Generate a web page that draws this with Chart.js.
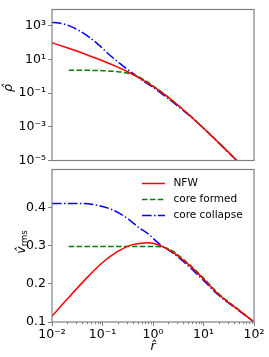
<!DOCTYPE html>
<html>
<head>
<meta charset="utf-8">
<script src="https://cdn.jsdelivr.net/npm/chart.js@4/dist/chart.umd.min.js"></script>
<style>
  body { margin: 0; background: #fff; }
  #wrap { position: relative; width: 269px; height: 357px; }
  canvas { position: absolute; left: 0; }
  #top { top: 0; }
  #bot { top: 160px; }
</style>
</head>
<body>
<div id="wrap">
  <canvas id="top" width="269" height="170"></canvas>
  <canvas id="bot" width="269" height="197"></canvas>
</div>
<script>
// ---- data ----
const seriesNames = ["NFW", "core formed", "core collapse"];

// top panel: density
const rNfwTop  = [0.01, 0.02, 0.05, 0.1, 0.2, 0.3, 0.5, 1, 2, 3, 5, 10, 20, 30, 50, 100];
const rhoNfw   = [98, 48, 18.1, 8.26, 3.47, 1.97, 0.889, 0.25, 0.0556, 0.0208, 0.00556, 8.26e-4, 1.13e-4, 3.47e-5, 7.7e-6, 9.8e-7];
const rCoreTop = [0.0214, 0.05, 0.1, 0.2, 0.3, 0.45, 0.7, 1, 2, 3, 5, 10, 20, 50, 100];
const rhoCore  = [2.26, 2.22, 2.12, 1.86, 1.56, 1.1, 0.55, 0.27, 0.058, 0.021, 0.0058, 8.4e-4, 1.14e-4, 7.7e-6, 9.8e-7];
const rCollTop = [0.01, 0.0136, 0.0214, 0.0338, 0.0535, 0.0843, 0.133, 0.209, 0.284, 0.415, 0.61, 0.955, 2.04, 4.4, 10, 20, 50, 100];
const rhoColl  = [1550, 1420, 1000, 520, 214, 72, 20, 6.5, 3.1, 1.38, 0.57, 0.24, 0.045, 0.0072, 8.2e-4, 1.1e-4, 7.6e-6, 9.7e-7];

// bottom panel: rms velocity
const rNfwBot  = [0.01, 0.02, 0.05, 0.1, 0.2, 0.35, 0.5, 0.8, 1.3, 2.4, 5, 10, 20, 50, 100];
const vNfw     = [0.115, 0.160, 0.217, 0.256, 0.285, 0.301, 0.305, 0.308, 0.302, 0.284, 0.251, 0.213, 0.172, 0.131, 0.1];
const rCoreBot = [0.0214, 0.5, 1.0, 1.6, 2.4, 5, 10, 20, 50, 100];
const vCore    = [0.298, 0.298, 0.298, 0.296, 0.287, 0.253, 0.215, 0.174, 0.132, 0.1];
const rCollBot = [0.01, 0.04, 0.072, 0.133, 0.209, 0.33, 0.52, 0.82, 1.3, 2.4, 5, 10, 20, 50, 100];
const vColl    = [0.411, 0.411, 0.407, 0.398, 0.386, 0.369, 0.348, 0.330, 0.306, 0.282, 0.247, 0.209, 0.170, 0.130, 0.1];

// ticks
const xTickVals   = [0.01, 0.1, 1, 10, 100];
const xTickLabels = ["10⁻²", "10⁻¹", "10⁰", "10¹", "10²"];
const topTickVals   = [1e-5, 1e-3, 1e-1, 10, 1000];
const topTickLabels = ["10⁻⁵", "10⁻³", "10⁻¹", "10¹", "10³"];
const botTickVals   = [0.1, 0.2, 0.3, 0.4];
const botTickLabels = ["0.1", "0.2", "0.3", "0.4"];

const colors = ["#ff0000", "#008000", "#0000ff"];
const dashes = [[], [5.5, 2.4], [9.6, 2.4, 1.5, 2.4]];
const FONT = "DejaVu Sans";
const SPINE = "#808080";
const TICKFONT = { family: FONT, size: 12.5 };

function pts(xs, ys) { return xs.map((x, i) => ({ x, y: ys[i] })); }

function ds(i, data) {
  return {
    label: seriesNames[i], data,
    borderColor: colors[i], borderWidth: 1.5, borderDash: dashes[i],
    pointRadius: 0, fill: false, cubicInterpolationMode: "monotone"
  };
}

const frame = {
  id: "frame",
  afterDraw(chart) {
    const { ctx, chartArea: a } = chart;
    ctx.save();
    ctx.strokeStyle = SPINE;
    ctx.lineWidth = 1.2;
    ctx.strokeRect(a.left, a.top, a.right - a.left, a.bottom - a.top);
    ctx.restore();
  }
};

function yLabel(text, sub, x, y) {
  return {
    id: "ylab",
    afterDraw(chart) {
      const ctx = chart.ctx;
      ctx.save();
      ctx.translate(x, y);
      ctx.rotate(-Math.PI / 2);
      ctx.fillStyle = "#000";
      ctx.textBaseline = "middle";
      ctx.font = "italic 12.5px " + FONT;
      const w1 = ctx.measureText(text).width;
      let w2 = 0;
      if (sub) { ctx.font = "8.5px " + FONT; w2 = ctx.measureText(sub).width; }
      const x0 = -(w1 + w2) / 2;
      ctx.font = "italic 12.5px " + FONT;
      ctx.textAlign = "left";
      ctx.fillText(text, x0, 0);
      if (sub) { ctx.font = "8.5px " + FONT; ctx.fillText(sub, x0 + w1, 3); }
      ctx.restore();
    }
  };
}

const yAxisCommon = {
  grid: { drawOnChartArea: false, tickLength: 4, color: SPINE },
  border: { display: false },
  afterFit: s => { s.width = 52; }
};

new Chart(document.getElementById("top"), {
  type: "line",
  data: { datasets: [ds(0, pts(rNfwTop, rhoNfw)), ds(1, pts(rCoreTop, rhoCore)), ds(2, pts(rCollTop, rhoColl))] },
  options: {
    responsive: false, animation: false,
    layout: { padding: { top: 8, right: 15, left: 0, bottom: 0 } },
    plugins: { legend: { display: false }, tooltip: { enabled: false } },
    scales: {
      x: {
        type: "logarithmic", min: 0.01, max: 100,
        afterBuildTicks: s => { s.ticks = xTickVals.map(v => ({ value: v })); },
        ticks: { display: false },
        grid: { display: false }, border: { display: false },
        afterFit: s => { s.height = 5; }
      },
      y: Object.assign({}, yAxisCommon, {
        type: "logarithmic", min: 1e-5, max: 9000,
        afterBuildTicks: s => { s.ticks = topTickVals.map(v => ({ value: v })); },
        ticks: { callback: (v, i) => topTickLabels[i], color: "#000", font: TICKFONT, padding: 2 }
      })
    }
  },
  plugins: [frame, yLabel("ρ\u0302", "", 9, 88)]
});

const legendIn = {
  id: "legendIn",
  afterDraw(chart) {
    const { ctx, chartArea: a } = chart;
    ctx.save();
    ctx.font = "10.5px " + FONT;
    ctx.textBaseline = "middle";
    ctx.fillStyle = "#000";
    seriesNames.forEach((name, i) => {
      const y = a.top + 14 + i * 16;
      const x = a.right - 112;
      ctx.strokeStyle = colors[i];
      ctx.lineWidth = 1.5;
      ctx.setLineDash(dashes[i]);
      ctx.beginPath(); ctx.moveTo(x, y); ctx.lineTo(x + 23, y); ctx.stroke();
      ctx.setLineDash([]);
      ctx.fillText(name, x + 31.5, y);
    });
    ctx.restore();
  }
};

const minorX = {
  id: "minorX",
  afterDraw(chart) {
    const { ctx, chartArea: a } = chart;
    const sx = chart.scales.x;
    ctx.save();
    ctx.strokeStyle = SPINE;
    ctx.lineWidth = 1;
    for (let n = -2; n < 2; n++) {
      for (let k = 2; k < 10; k++) {
        const px = Math.round(sx.getPixelForValue(k * Math.pow(10, n))) + 0.5;
        ctx.beginPath(); ctx.moveTo(px, a.bottom); ctx.lineTo(px, a.bottom + 2.2); ctx.stroke();
      }
    }
    ctx.font = "italic 12.5px " + FONT;
    ctx.fillStyle = "#000";
    ctx.textAlign = "center";
    ctx.textBaseline = "middle";
    ctx.fillText("r\u0302", (a.left + a.right) / 2, 187);
    ctx.restore();
  }
};

new Chart(document.getElementById("bot"), {
  type: "line",
  data: { datasets: [ds(0, pts(rNfwBot, vNfw)), ds(1, pts(rCoreBot, vCore)), ds(2, pts(rCollBot, vColl))] },
  options: {
    responsive: false, animation: false,
    layout: { padding: { top: 5, right: 15, left: 0, bottom: 0 } },
    plugins: { legend: { display: false }, tooltip: { enabled: false } },
    scales: {
      x: {
        type: "logarithmic", min: 0.01, max: 100,
        afterBuildTicks: s => { s.ticks = xTickVals.map(v => ({ value: v })); },
        ticks: { callback: (v, i) => xTickLabels[i], color: "#000", font: TICKFONT, padding: 1, maxRotation: 0, autoSkip: false },
        grid: { drawOnChartArea: false, tickLength: 4, color: SPINE },
        border: { display: false },
        afterFit: s => { s.height = 35; }
      },
      y: Object.assign({}, yAxisCommon, {
        type: "linear", min: 0.1, max: 0.4999,
        afterBuildTicks: s => { s.ticks = botTickVals.map(v => ({ value: v })); },
        ticks: { callback: (v, i) => botTickLabels[i], color: "#000", font: TICKFONT, padding: 2 }
      })
    }
  },
  plugins: [frame, legendIn, minorX, yLabel("v\u0302", "rms", 22, 82)]
});
</script>
</body>
</html>
